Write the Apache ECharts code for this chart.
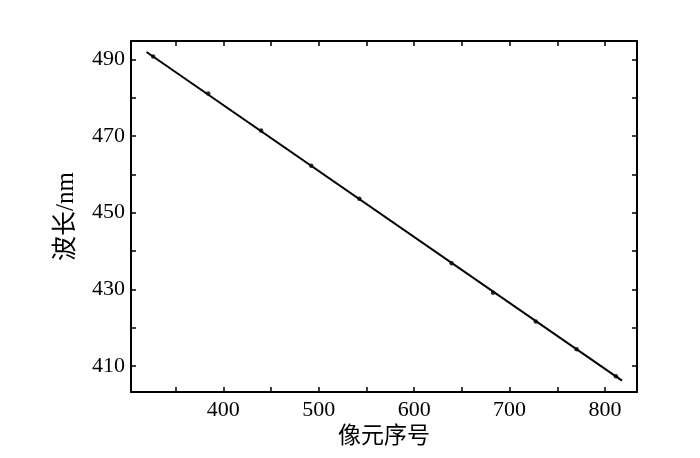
<!DOCTYPE html>
<html>
<head>
<meta charset="utf-8">
<script src="https://cdn.jsdelivr.net/npm/echarts@6/dist/echarts.min.js"></script>
<style>html,body{margin:0;padding:0;background:#fff;}#c{width:700px;height:458px;}</style>
</head>
<body>
<div id="c"></div>
<script>
// Data
var pixelIndex = [326.5, 384.2, 439.6, 492.1, 542.5, 639.2, 682.6, 727.4, 770.2, 811.4];
var wavelength = [490.7, 481.1, 471.4, 462.2, 453.6, 436.8, 429.1, 421.6, 414.4, 407.3];
var fitX = [319.5, 817.8];
var fitY = [491.9, 406.2];
var xLabels = [400, 500, 600, 700, 800];
var xTicks = [350, 400, 450, 500, 550, 600, 650, 700, 750, 800];
var yLabels = [410, 430, 450, 470, 490];
var yTicks = [410, 420, 430, 440, 450, 460, 470, 480, 490];
var xTitle = '像元序号';
var yTitle = '波长/nm';

var serif = '"Liberation Serif","Times New Roman","Noto Sans CJK SC",serif';
var xMin = 303.25, xMax = 833.5, yMin = 403.22, yMax = 494.77;

function axisBase(extra) {
  var a = {
    type: 'value',
    axisLine: { show: true, onZero: false, lineStyle: { color: '#000', width: 2 } },
    axisTick: { show: true, inside: true, length: 5, lineStyle: { color: '#000', width: 1.5 } },
    splitLine: { show: false },
    axisLabel: { show: false }
  };
  for (var k in extra) a[k] = extra[k];
  return a;
}

var chart = echarts.init(document.getElementById('c'), null, { renderer: 'canvas' });
chart.setOption({
  animation: false,
  backgroundColor: '#fff',
  grid: { left: 131, right: 63, top: 41, bottom: 66, containLabel: false },
  xAxis: [
    axisBase({
      position: 'bottom', min: xMin, max: xMax,
      name: xTitle, nameLocation: 'middle', nameGap: 32,
      nameTextStyle: { fontFamily: serif, fontSize: 23, color: '#000' },
      axisTick: { show: true, inside: true, length: 5, customValues: xTicks, lineStyle: { color: '#000', width: 1.5 } },
      axisLabel: { show: true, customValues: xLabels, margin: 7, fontFamily: serif, fontSize: 22, color: '#000' }
    }),
    axisBase({
      position: 'top', min: xMin, max: xMax,
      axisTick: { show: true, inside: true, length: 5, customValues: xTicks, lineStyle: { color: '#000', width: 1.5 } }
    })
  ],
  yAxis: [
    axisBase({
      position: 'left', min: yMin, max: yMax,
      name: yTitle, nameLocation: 'middle', nameGap: 52,
      nameTextStyle: { fontFamily: serif, fontSize: 25, color: '#000' },
      axisTick: { show: true, inside: true, length: 5, customValues: yTicks, lineStyle: { color: '#000', width: 1.5 } },
      axisLabel: { show: true, customValues: yLabels, margin: 6, fontFamily: serif, fontSize: 22, color: '#000' }
    }),
    axisBase({
      position: 'right', min: yMin, max: yMax,
      axisTick: { show: true, inside: true, length: 5, customValues: yTicks, lineStyle: { color: '#000', width: 1.5 } }
    })
  ],
  series: [
    {
      type: 'line',
      xAxisIndex: 0, yAxisIndex: 0,
      data: fitX.map(function (x, i) { return [x, fitY[i]]; }),
      showSymbol: false, symbol: 'none',
      lineStyle: { color: '#000', width: 2 },
      silent: true, z: 2
    },
    {
      type: 'scatter',
      xAxisIndex: 0, yAxisIndex: 0,
      data: pixelIndex.map(function (x, i) { return [x, wavelength[i]]; }),
      symbol: 'circle', symbolSize: 4.5,
      itemStyle: { color: '#000' },
      silent: true, z: 3
    }
  ]
});
</script>
</body>
</html>
